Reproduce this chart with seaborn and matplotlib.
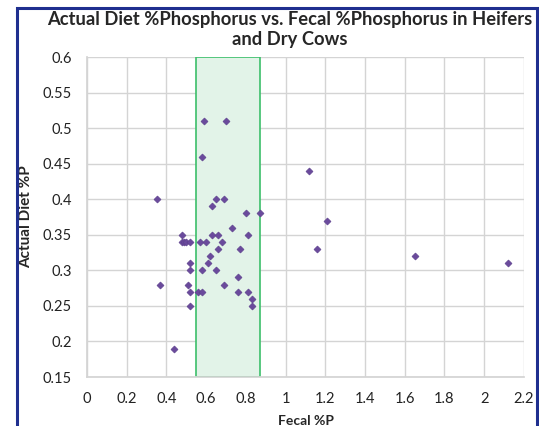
import pandas as pd
import matplotlib.pyplot as plt
import seaborn as sns
from matplotlib.patches import Rectangle

# fecal %P vs actual diet %P
fecal_p = [0.59, 0.70, 0.58, 1.12, 0.35, 0.65, 0.69, 0.63, 0.80, 0.87,
           0.73, 0.48, 0.63, 0.66, 0.81, 0.48, 0.49, 0.50, 0.52, 0.57,
           0.60, 0.68, 0.66, 0.77, 1.16, 0.62, 1.65, 0.61, 0.52, 2.12,
           0.52, 0.58, 0.65, 0.76, 0.37, 0.51, 0.69, 0.52, 0.56, 0.58,
           0.76, 0.81, 0.83, 0.83, 0.52, 0.44, 1.21]
diet_p = [0.51, 0.51, 0.46, 0.44, 0.40, 0.40, 0.40, 0.39, 0.38, 0.38,
          0.36, 0.35, 0.35, 0.35, 0.35, 0.34, 0.34, 0.34, 0.34, 0.34,
          0.34, 0.34, 0.33, 0.33, 0.33, 0.32, 0.32, 0.31, 0.31, 0.31,
          0.30, 0.30, 0.30, 0.29, 0.28, 0.28, 0.28, 0.27, 0.27, 0.27,
          0.27, 0.27, 0.26, 0.25, 0.25, 0.19, 0.37]

# shaded target band on the fecal axis
band_lo, band_hi = 0.55, 0.87

x_ticks = [0, 0.2, 0.4, 0.6, 0.8, 1, 1.2, 1.4, 1.6, 1.8, 2, 2.2]
y_ticks = [0.15, 0.2, 0.25, 0.3, 0.35, 0.4, 0.45, 0.5, 0.55, 0.6]

df = pd.DataFrame({"fecal": fecal_p, "diet": diet_p})

sns.set_theme(style="white")
plt.rcParams["font.family"] = ["Lato", "DejaVu Sans"]

fig = plt.figure(figsize=(5.39, 4.26), dpi=100)
ax = fig.add_axes([0.1614, 0.115, 0.8106, 0.751])

ax.add_patch(Rectangle((band_lo, 0.15), band_hi - band_lo, 0.45,
                       facecolor="#e2f3e8", edgecolor="#3cbf6a", lw=1.2, zorder=1))

sns.scatterplot(data=df, x="fecal", y="diet", marker="D", s=13,
                color="#6a4a9c", edgecolor="#5a3d8a", linewidth=0.4, ax=ax, zorder=3)

ax.set_xlim(0, 2.2)
ax.set_ylim(0.15, 0.6)
ax.set_xticks(x_ticks)
ax.set_xticklabels([f"{t:g}" for t in x_ticks])
ax.set_yticks(y_ticks)
ax.set_yticklabels([f"{t:g}" for t in y_ticks])
ax.tick_params(length=0, labelsize=10.5, colors="#222222")
ax.tick_params(axis="y", pad=11)
ax.tick_params(axis="x", pad=11)
ax.grid(True, color="#d4d4d4", lw=1)
ax.set_axisbelow(True)
for side in ["top", "right"]:
    ax.spines[side].set_visible(False)
for side in ["left", "bottom"]:
    ax.spines[side].set_color("#d4d4d4")

ax.set_xlabel("Fecal %P", fontsize=10, fontweight="bold", labelpad=6)
ax.set_ylabel("Actual Diet %P", fontsize=11, fontweight="bold", labelpad=7)
fig.text(0.538, 1 - 11 / 426,
         "Actual Diet %Phosphorus vs. Fecal %Phosphorus in Heifers\nand Dry Cows",
         ha="center", va="top", fontsize=13.2, fontweight="bold", linespacing=1.18)

# dark blue chart frame
fig.patches.append(Rectangle((17 / 539, -0.02), 520 / 539, 418 / 426 + 0.02,
                             transform=fig.transFigure, fill=False,
                             edgecolor="#1f2f8f", lw=2.2))

fig.savefig("out.png", dpi=100)
